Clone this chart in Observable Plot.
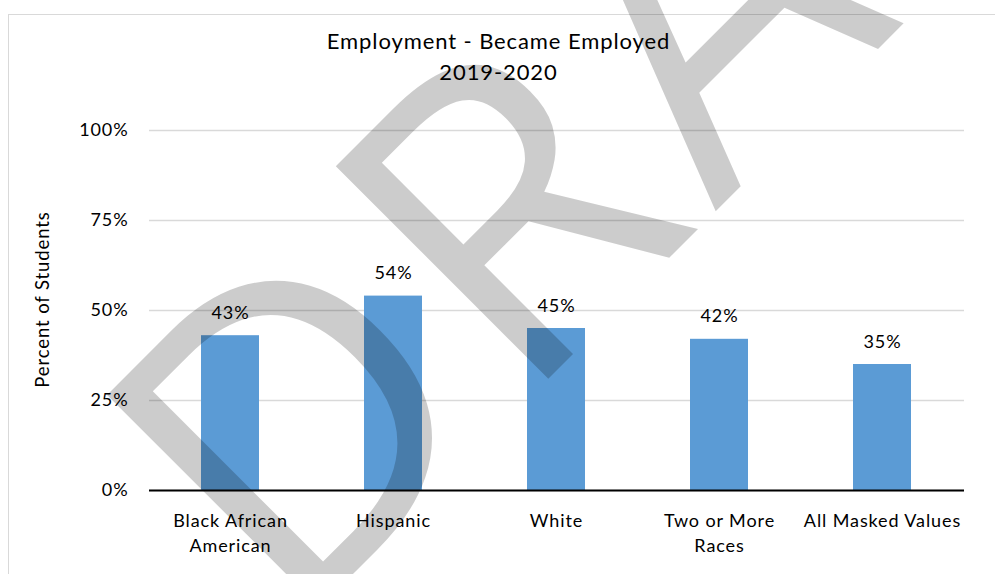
<!DOCTYPE html>
<html><head><meta charset="utf-8">
<script src="https://cdn.jsdelivr.net/npm/d3@7"></script>
<script src="https://cdn.jsdelivr.net/npm/@observablehq/plot@0.6"></script>
<style>
html,body{margin:0;padding:0;background:#fff;overflow:hidden;}
#wrap{position:relative;width:995px;height:574px;overflow:hidden;}
#border{position:absolute;left:8px;top:14px;width:1000px;height:600px;border-left:1.5px solid #d9d9d9;border-top:1.5px solid #d9d9d9;}
#chart{position:absolute;left:0;top:0;}
#chart svg text{letter-spacing:0.9px;}
#chart svg g[fill-opacity="0.2"] text{letter-spacing:18px;}
</style></head><body>
<div id="wrap"><div id="border"></div><div id="chart"></div></div>
<script>
const categories = ["Black African\nAmerican", "Hispanic", "White", "Two or More\nRaces", "All Masked Values"];
const values = [43, 54, 45, 42, 35];
const yTicks = [0, 25, 50, 75, 100];
const titleLines = ["Employment - Became Employed", "2019-2020"];
const yLabel = "Percent of Students";
const watermark = "DRAFT";

const data = categories.map((c, i) => ({category: c, value: values[i]}));

const chart = Plot.plot({
  width: 995,
  height: 574,
  marginLeft: 149,
  marginRight: 31,
  marginTop: 130,
  marginBottom: 84,
  style: {fontFamily: "Lato", fontSize: "18px", color: "#000", background: "transparent"},
  x: {domain: categories, paddingInner: 0.644, paddingOuter: 0.322},
  y: {domain: [0, 100]},
  marks: [
    Plot.gridY(yTicks, {stroke: "#d9d9d9", strokeOpacity: 1, strokeWidth: 1.5}),
    Plot.barY(data, {x: "category", y: "value", fill: "#5b9bd5"}),
    Plot.ruleY([yTicks[0]], {stroke: "#000", strokeWidth: 2}),
    Plot.axisY({ticks: yTicks, tickFormat: d => d + "%", tickSize: 0, tickPadding: 21, fontSize: 18, label: null, fill: "#000"}),
    Plot.axisX({tickSize: 0, tickPadding: 19, fontSize: 18, lineHeight: 1.39, label: null, fill: "#000"}),
    Plot.text(data, {x: "category", y: "value", text: d => d.value + "%", lineAnchor: "bottom", dy: -17, fontSize: 18, fill: "#000"}),
    Plot.text([titleLines[0]], {frameAnchor: "top", dx: -58.5, dy: -81.7, lineAnchor: "bottom", fontSize: 22, fill: "#000"}),
    Plot.text([titleLines[1]], {frameAnchor: "top", dx: -58.5, dy: -51, lineAnchor: "bottom", fontSize: 22, fill: "#000"}),
    Plot.text([yLabel], {frameAnchor: "left", dx: -106.5, dy: -11, rotate: -90, textAnchor: "middle", fontSize: 18.5, fill: "#000"}),
    Plot.text([watermark], {frameAnchor: "top-left", dx: 141, dy: 506, rotate: -45, textAnchor: "start", lineAnchor: "bottom", fontSize: 421, fontFamily: "Open Sans", fill: "#000", fillOpacity: 0.2})
  ]
});
document.getElementById("chart").appendChild(chart);
</script>
</body></html>
